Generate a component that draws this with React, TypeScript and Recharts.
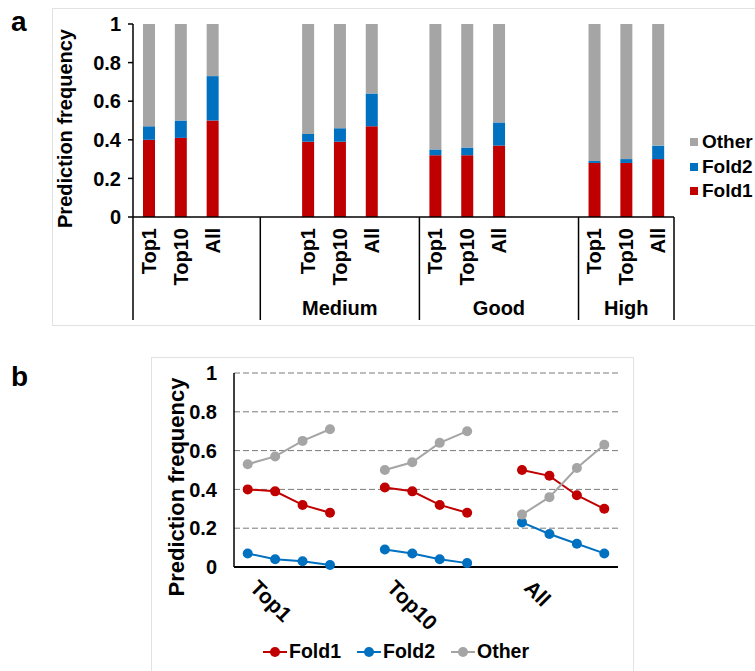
import { BarChart, Bar, LineChart, Line, XAxis, YAxis, CartesianGrid, Legend } from "recharts"

const FONT = '"Liberation Sans", Arial, Helvetica, sans-serif'
const RED = "#C00000"
const BLUE = "#0070C0"
const GRAY = "#A5A5A5"

const groupNames = ["", "Medium", "Good", "High"]
const tierNames = ["Top1", "Top10", "All"]
const yTicks = [0, 0.2, 0.4, 0.6, 0.8, 1]

// values per tier, one entry per group (first, Medium, Good, High)
const top1Fold1 = [0.40, 0.39, 0.32, 0.28]
const top1Fold2 = [0.07, 0.04, 0.03, 0.01]
const top1Other = [0.53, 0.57, 0.65, 0.71]
const top10Fold1 = [0.41, 0.39, 0.32, 0.28]
const top10Fold2 = [0.09, 0.07, 0.04, 0.02]
const top10Other = [0.50, 0.54, 0.64, 0.70]
const allFold1 = [0.50, 0.47, 0.37, 0.30]
const allFold2 = [0.23, 0.17, 0.12, 0.07]
const allOther = [0.27, 0.36, 0.51, 0.63]

// bar slots in each group, "" is an empty slot
const barSlots = [
  ["Top1", "Top10", "All", ""],
  ["", "Top1", "Top10", "All", ""],
  ["Top1", "Top10", "All", "", ""],
  ["Top1", "Top10", "All"],
]

const tierSeries: Record<string, { fold1: number[]; fold2: number[]; other: number[] }> = {
  Top1: { fold1: top1Fold1, fold2: top1Fold2, other: top1Other },
  Top10: { fold1: top10Fold1, fold2: top10Fold2, other: top10Other },
  All: { fold1: allFold1, fold2: allFold2, other: allOther },
}

const barRows = barSlots.flatMap((slots, gi) =>
  slots.map((tier, si) => {
    const s = tier ? tierSeries[tier] : null
    return {
      key: `${gi}-${si}`,
      tier,
      group: groupNames[gi],
      slotIndex: si,
      groupSize: slots.length,
      fold1: s ? s.fold1[gi] : null,
      fold2: s ? s.fold2[gi] : null,
      other: s ? s.other[gi] : null,
    }
  })
)

// line panel: four groups per tier, one empty slot between tiers
const lineRows = tierNames.flatMap((tier, ti) => {
  const s = tierSeries[tier]
  const rows: any[] = groupNames.map((_, gi) => ({
    key: `${tier}-${gi}`,
    label: gi === 0 ? tier : "",
    fold1: s.fold1[gi],
    fold2: s.fold2[gi],
    other: s.other[gi],
  }))
  if (ti < tierNames.length - 1) rows.push({ key: `gap-${ti}`, label: "", fold1: null, fold2: null, other: null })
  return rows
})

const A_W = 755
const A_H = 330
const A_MARGIN = { top: 24, right: 81, bottom: 8, left: 63 }
const A_YAXIS_W = 70
const slotA = (A_W - A_MARGIN.left - A_YAXIS_W - A_MARGIN.right) / barRows.length

const textStyle = { fill: "#000", fontSize: 20, fontWeight: 700, fontFamily: FONT }

// vertical axis title, placed relative to the axis box
const axisTitle = (dx: number, dy: number, size: number) => (props: any) => {
  const vb = props.viewBox ?? {}
  const cx = vb.x + dx
  const cy = vb.y + vb.height / 2 + dy
  return (
    <text
      transform={`translate(${cx},${cy}) rotate(-90)`}
      textAnchor="middle"
      dominantBaseline="central"
      {...textStyle}
      fontSize={size}
    >
      Prediction frequency
    </text>
  )
}

function BarTick(props: any) {
  const { x, y } = props
  const index = props.payload?.index ?? props.index
  const row = barRows[index]
  if (!row) return null
  const left = x - slotA / 2
  const last = index === barRows.length - 1
  return (
    <g>
      {row.tier && (
        <text transform={`translate(${x + 7},${y + 11}) rotate(-90)`} textAnchor="end" {...textStyle}>
          {row.tier}
        </text>
      )}
      {row.slotIndex === 0 && <line x1={left} x2={left} y1={y} y2={y + 103} stroke="#000" strokeWidth={1.5} />}
      {row.slotIndex === 0 && row.group && (
        <text x={left + (row.groupSize * slotA) / 2} y={y + 98} textAnchor="middle" {...textStyle}>
          {row.group}
        </text>
      )}
      {last && <line x1={x + slotA / 2} x2={x + slotA / 2} y1={y} y2={y + 103} stroke="#000" strokeWidth={1.5} />}
    </g>
  )
}

function LineTick(props: any) {
  const { x, y } = props
  const index = props.payload?.index ?? props.index
  const row = lineRows[index]
  if (!row || !row.label) return null
  return (
    <text transform={`translate(${x + 1},${y + 22}) rotate(45)`} textAnchor="start" {...textStyle} fontSize={21}>
      {row.label}
    </text>
  )
}

const renderBarLegend = ({ payload }: any) => (
  <div style={{ display: "flex", flexDirection: "column" }}>
    {[...(payload ?? [])].reverse().map((p: any) => (
      <div
        key={p.value}
        style={{ display: "flex", alignItems: "center", height: 24.5, fontSize: 19, fontWeight: 700, fontFamily: FONT, color: "#000" }}
      >
        <span style={{ width: 8, height: 8, background: p.color, marginRight: 4, flex: "none" }} />
        {p.value}
      </div>
    ))}
  </div>
)

const renderLineLegend = ({ payload }: any) => (
  <div style={{ display: "flex", alignItems: "center", gap: 16 }}>
    {(payload ?? []).map((p: any) => (
      <div key={p.value} style={{ display: "flex", alignItems: "center", fontSize: 19.5, fontWeight: 700, fontFamily: FONT, color: "#000" }}>
        <svg width={24} height={12} style={{ marginRight: 2 }}>
          <line x1={0} x2={24} y1={6} y2={6} stroke={p.color} strokeWidth={2} />
          <circle cx={12} cy={6} r={5} fill={p.color} />
        </svg>
        {p.value}
      </div>
    ))}
  </div>
)

const dotStyle = (color: string) => ({ r: 5, fill: color, stroke: color, strokeWidth: 0 })

export default function App() {
  return (
    <div style={{ position: "absolute", left: 0, top: 0, width: 755, height: 671, background: "#fff", fontFamily: FONT, overflow: "hidden" }}>
      <div style={{ position: "absolute", left: 52, top: 8, width: 720, height: 316, border: "1px solid #e2e2e2" }} />
      <div style={{ position: "absolute", left: 151, top: 357, width: 481, height: 340, border: "1px solid #e2e2e2" }} />
      <div style={{ position: "absolute", left: 11, top: 8, fontSize: 28, fontWeight: 700, lineHeight: "28px" }}>a</div>
      <div style={{ position: "absolute", left: 11, top: 363, fontSize: 28, fontWeight: 700, lineHeight: "28px" }}>b</div>

      <div style={{ position: "absolute", left: 0, top: 0 }}>
        <BarChart width={A_W} height={A_H} data={barRows} margin={A_MARGIN} barCategoryGap={0}>
          <YAxis
            domain={[0, 1]}
            ticks={yTicks}
            width={A_YAXIS_W}
            tickSize={5}
            tickMargin={7}
            axisLine={{ stroke: "#000", strokeWidth: 1.5 }}
            tickLine={{ stroke: "#000", strokeWidth: 1.5 }}
            tick={textStyle}
            label={{ content: axisTitle(2, 8, 20) }}
          />
          <XAxis
            dataKey="key"
            interval={0}
            height={105}
            tickSize={0}
            tickMargin={0}
            axisLine={{ stroke: "#000", strokeWidth: 1.5 }}
            tickLine={false}
            tick={(p: any) => <BarTick {...p} />}
          />
          <Bar dataKey="fold1" name="Fold1" stackId="s" fill={RED} barSize={12} isAnimationActive={false} />
          <Bar dataKey="fold2" name="Fold2" stackId="s" fill={BLUE} barSize={12} isAnimationActive={false} />
          <Bar dataKey="other" name="Other" stackId="s" fill={GRAY} barSize={12} isAnimationActive={false} />
          <Legend
            layout="vertical"
            align="center"
            verticalAlign="middle"
            content={renderBarLegend}
            wrapperStyle={{ left: 690, top: 130, width: 70 }}
          />
        </BarChart>
      </div>

      <div style={{ position: "absolute", left: 0, top: 330 }}>
        <LineChart width={755} height={341} data={lineRows} margin={{ top: 43, right: 137, bottom: 4, left: 154 }}>
          <CartesianGrid vertical={false} stroke="#7a7a7a" strokeDasharray="6 3" />
          <YAxis
            domain={[0, 1]}
            ticks={yTicks}
            width={80}
            tickSize={0}
            tickMargin={17}
            axisLine={{ stroke: "#000", strokeWidth: 1.5 }}
            tickLine={false}
            tick={textStyle}
            label={{ content: axisTitle(22, 17, 22) }}
          />
          <XAxis
            dataKey="key"
            scale="band"
            interval={0}
            height={100}
            tickSize={0}
            tickMargin={0}
            axisLine={{ stroke: "#000", strokeWidth: 2 }}
            tickLine={false}
            tick={(p: any) => <LineTick {...p} />}
          />
          <Line dataKey="fold1" name="Fold1" stroke={RED} strokeWidth={2} dot={dotStyle(RED)} activeDot={false} connectNulls={false} isAnimationActive={false} />
          <Line dataKey="fold2" name="Fold2" stroke={BLUE} strokeWidth={2} dot={dotStyle(BLUE)} activeDot={false} connectNulls={false} isAnimationActive={false} />
          <Line dataKey="other" name="Other" stroke={GRAY} strokeWidth={2} dot={dotStyle(GRAY)} activeDot={false} connectNulls={false} isAnimationActive={false} />
          <Legend
            layout="vertical"
            align="center"
            verticalAlign="middle"
            content={renderLineLegend}
            wrapperStyle={{ left: 263, top: 310, width: 320 }}
          />
        </LineChart>
      </div>
    </div>
  )
}
